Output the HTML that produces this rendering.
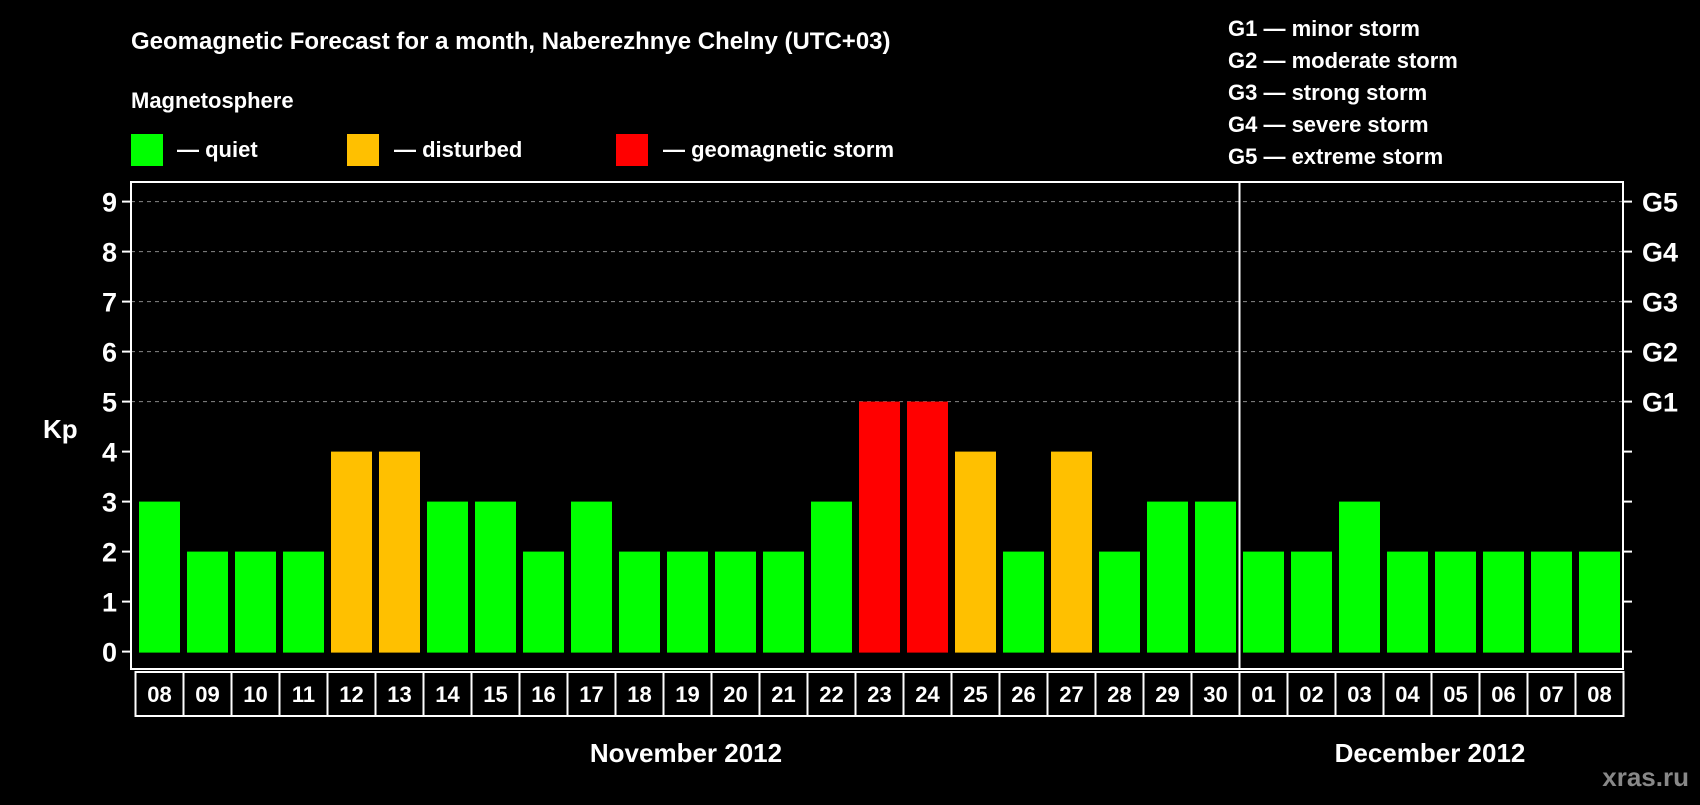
<!DOCTYPE html>
<html><head><meta charset="utf-8"><style>
body{margin:0;background:#000;width:1700px;height:800px;overflow:hidden}
svg text{font-family:"Liberation Sans",sans-serif;font-weight:bold;fill:#fff}
</style></head><body>
<svg id="c" width="1700" height="800">
<text x="131" y="49" font-size="24">Geomagnetic Forecast for a month, Naberezhnye Chelny (UTC+03)</text>
<text x="131" y="108" font-size="22">Magnetosphere</text>
<rect x="131" y="134" width="32" height="32" fill="#00ff00"/>
<text x="177" y="157" font-size="22">— quiet</text>
<rect x="347" y="134" width="32" height="32" fill="#ffc000"/>
<text x="394" y="157" font-size="22">— disturbed</text>
<rect x="616" y="134" width="32" height="32" fill="#ff0000"/>
<text x="663" y="157" font-size="22">— geomagnetic storm</text>
<g font-size="22">
<text x="1228" y="36">G1 — minor storm</text>
<text x="1228" y="68">G2 — moderate storm</text>
<text x="1228" y="100">G3 — strong storm</text>
<text x="1228" y="132">G4 — severe storm</text>
<text x="1228" y="164">G5 — extreme storm</text>
</g>
<text x="43" y="438" font-size="26">Kp</text>
<text x="686" y="762" font-size="26" text-anchor="middle">November 2012</text>
<text x="1430" y="762" font-size="26" text-anchor="middle">December 2012</text>
<text x="1689" y="786" font-size="26" text-anchor="end" style="fill:#888">xras.ru</text>
<g id="plot"></g>
</svg>
<script>
const days=["08","09","10","11","12","13","14","15","16","17","18","19","20","21","22","23","24","25","26","27","28","29","30","01","02","03","04","05","06","07","08"];
const kp=[3,2,2,2,4,4,3,3,2,3,2,2,2,2,3,5,5,4,2,4,2,3,3,2,2,3,2,2,2,2,2];
const yTicks=[0,1,2,3,4,5,6,7,8,9];
const gLabels=["G1","G2","G3","G4","G5"];
const gLevels=[5,6,7,8,9];
const NS="http://www.w3.org/2000/svg";
const L=131,R=1623,T=182,B=669,Y0=651.6,U=50.0,X0=135.5,CW=48;
const y=v=>Y0-v*U, x=i=>X0+i*CW;
const g=document.getElementById('plot');
function mk(t,a){const e=document.createElementNS(NS,t);for(const k in a)e.setAttribute(k,a[k]);g.appendChild(e);return e;}
gLevels.forEach(v=>{const e=mk('line',{x1:L,x2:R,y1:y(v),y2:y(v),stroke:'#888','stroke-dasharray':'4,4','stroke-width':1});

});
kp.forEach((v,i)=>{const c=v>=5?'#ff0000':v>=4?'#ffc000':'#00ff00';
const r=mk('rect',{x:x(i)+3.5,y:y(v),width:41,height:Y0-y(v)+1,fill:c});


const bx=mk('rect',{x:x(i),y:B+3,width:CW,height:44,fill:'none',stroke:'#fff','stroke-width':2});


const t=mk('text',{x:x(i)+CW/2,y:B+33,'font-size':22,'text-anchor':'middle'});t.textContent=days[i];

});
yTicks.forEach(v=>{const l=mk('line',{x1:L-9,x2:L,y1:y(v),y2:y(v),stroke:'#fff','stroke-width':2});


const l2=mk('line',{x1:R,x2:R+9,y1:y(v),y2:y(v),stroke:'#fff','stroke-width':2});


const t=mk('text',{x:117,y:y(v)+10,'font-size':27,'text-anchor':'end'});t.textContent=v;

});
gLabels.forEach((s,i)=>{const t=mk('text',{x:1642,y:y(gLevels[i])+10,'font-size':27});t.textContent=s;

});
const f=mk('rect',{x:L,y:T,width:R-L,height:B-T,fill:'none',stroke:'#fff','stroke-width':2});


const d=mk('line',{x1:x(23),x2:x(23),y1:T,y2:B,stroke:'#fff','stroke-width':2});


</script>
</body></html>
